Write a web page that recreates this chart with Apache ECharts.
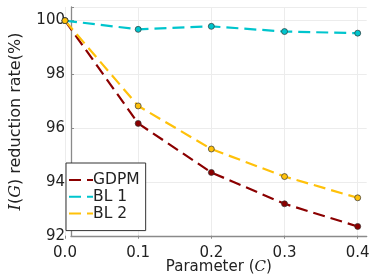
<!DOCTYPE html>
<html><head><meta charset="utf-8">
<script src="https://cdn.jsdelivr.net/npm/echarts@6/dist/echarts.min.js"></script>
<style>html,body{margin:0;padding:0;background:#fff}#c{width:374px;height:280px}</style>
</head><body><div id="c"></div>
<script>
const params = [0.0, 0.1, 0.2, 0.3, 0.4];
const gdpm = [100, 96.23, 94.43, 93.28, 92.45];
const bl1 = [100, 99.68, 99.79, 99.6, 99.54];
const bl2 = [100, 96.87, 95.29, 94.28, 93.5];
const seriesNames = ['GDPM', 'BL 1', 'BL 2'];
const colors = ['#8B0000', '#00C5CD', '#FFC10A'];
const yTicks = [92, 94, 96, 98, 100];

const font = 'DejaVu Sans';
function mk(name, vals, color) {
  return {
    name: name, type: 'line', xAxisIndex: 1, yAxisIndex: 1,
    data: params.map((p, i) => [p, vals[i]]),
    symbol: 'circle', symbolSize: 6,
    lineStyle: { color: color, width: 2.2, type: [12, 6] },
    itemStyle: { color: color, borderColor: '#333', borderWidth: 0.7 },
    emphasis: { disabled: true }, animation: false
  };
}
const chart = echarts.init(document.getElementById('c'), null, { renderer: 'canvas' });
chart.setOption({
  animation: false,
  backgroundColor: '#fff',
  grid: [
    { left: 56, right: 7.3, top: 7, bottom: 41.3 },
    { left: 65, right: 16.3, top: 7, bottom: 41.3 }
  ],
  xAxis: [
    { gridIndex: 0, type: 'value', min: -0.012, max: 0.412,
      axisLine: { show: true, onZero: false, lineStyle: { color: '#8a8a8a', width: 1.3 } },
      axisTick: { show: false }, axisLabel: { show: false }, splitLine: { show: false },
      name: 'Parameter ({c|C})', nameLocation: 'middle', nameGap: 24,
      nameTextStyle: { fontFamily: font, fontSize: 15, color: '#222',
        rich: { c: { fontFamily: 'DejaVu Serif', fontStyle: 'italic', fontSize: 15, color: '#222' } } } },
    { gridIndex: 1, type: 'value', min: 0, max: 0.4, interval: 0.1,
      axisLine: { show: false, onZero: false },
      axisTick: { show: true, inside: true, length: 3, lineStyle: { color: '#8a8a8a' } },
      axisLabel: { fontFamily: font, fontSize: 15, color: '#222', margin: 7,
        formatter: v => v.toFixed(1) },
      splitLine: { show: true, lineStyle: { color: '#ececec', width: 1 } } }
  ],
  yAxis: [
    { gridIndex: 0, type: 'value', min: 92, max: 100.5, interval: 2,
      axisLine: { show: true, onZero: false, lineStyle: { color: '#8a8a8a', width: 1.3 } },
      axisTick: { show: true, inside: true, length: 3, lineStyle: { color: '#8a8a8a' } },
      axisLabel: { fontFamily: font, fontSize: 15, color: '#222', margin: 6,
        formatter: v => (yTicks.indexOf(v) >= 0 ? String(v) : '') },
      splitLine: { show: true, lineStyle: { color: '#ececec', width: 1 } },
      name: '{i|I}({i|G}) reduction rate(%)', nameLocation: 'middle', nameGap: 47,
      nameTextStyle: { fontFamily: font, fontSize: 16, color: '#222',
        rich: { i: { fontFamily: 'DejaVu Serif', fontStyle: 'italic', fontSize: 16, color: '#222' } } } },
    { gridIndex: 1, type: 'value', min: 92, max: 100.5, show: false }
  ],
  legend: {
    orient: 'vertical', left: 66, top: 163,
    data: seriesNames,
    itemWidth: 24, itemHeight: 17, itemGap: 0.8,
    padding: [9, 6, 9, 2],
    borderColor: '#333', borderWidth: 1, backgroundColor: '#fff',
    itemStyle: { opacity: 0 },
    textStyle: { fontFamily: font, fontSize: 15.5, color: '#222', padding: [0, 0, 0, -5] },
    selectedMode: false
  },
  series: [mk(seriesNames[0], gdpm, colors[0]), mk(seriesNames[1], bl1, colors[1]), mk(seriesNames[2], bl2, colors[2])]
});
</script></body></html>
